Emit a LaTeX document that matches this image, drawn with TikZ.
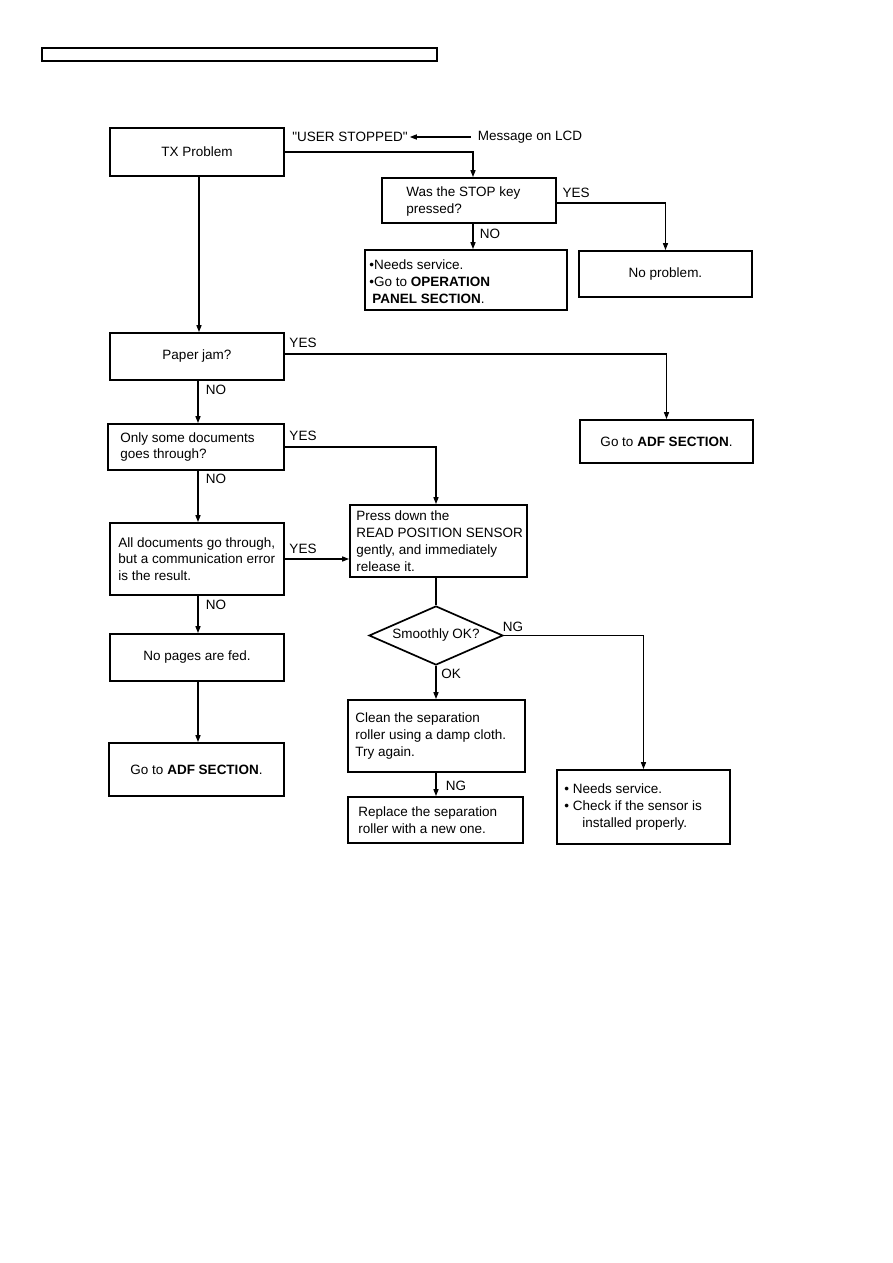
\documentclass[tikz,border=0pt]{standalone}
\usepackage{fontspec}
\setmainfont{Liberation Sans}
\newfontfamily\qfont{Liberation Sans}
\usetikzlibrary{arrows.meta,shapes.geometric,calc}
\begin{document}
\begin{tikzpicture}[x=1pt,y=-1pt,
  every node/.style={font=\fontsize{13.5}{16.8}\selectfont},
  box/.style={draw,line width=1.7pt,inner sep=0pt,align=center},
  txt/.style={inner sep=0pt,align=left,anchor=west},
  lab/.style={inner sep=0pt},
  conn/.style={line width=1.4pt},
  arr/.style={line width=1.4pt,-{Triangle[length=7pt,width=5pt]}}
]
\useasboundingbox (0,0) rectangle (893,1263);
\node[draw,line width=1.3pt,minimum width=395,minimum height=13,inner sep=0pt] (hdr) at (239.5,54.5) {};

% boxes
\node[box,minimum width=174,minimum height=48] (tx) at (197,152) {TX Problem};
\node[lab] (user) at (350,137) {\qfont "USER STOPPED"};
\node[lab] (msg) at (530,137) {Message on LCD};
\node[box,minimum width=174,minimum height=45] (was) at (469,200.5) {};
\node[txt] (wasT) at ([xshift=25pt,yshift=-1pt]was.west) {Was the STOP key\\pressed?};
\node[box,minimum width=173,minimum height=46] (noprob) at (665.5,274) {No problem.};
\node[box,minimum width=202,minimum height=60] (needs1) at (466,280) {};
\node[txt] (needs1T) at ([xshift=5pt,yshift=-1.5pt]needs1.west) {\textbullet Needs service.\\\textbullet Go to \textbf{OPERATION}\\\hspace{3pt}\textbf{PANEL SECTION}.};
\node[box,minimum width=174,minimum height=47] (paper) at (197,356.5) {Paper jam?};
\node[box,minimum width=173,minimum height=43] (adfr) at (666.5,441.5) {Go to \textbf{ADF SECTION}.};
\node[box,minimum width=176,minimum height=46] (only) at (196,447) {};
\node[txt] (onlyT) at ([xshift=13pt]only.west) {Only some documents\\goes through?};
\node[box,minimum width=174,minimum height=72] (all) at (197,559) {};
\node[txt] (allT) at ([xshift=9pt]all.west) {All documents go through,\\but a communication error\\is the result.};
\node[box,minimum width=177,minimum height=72] (press) at (438.5,541) {};
\node[txt] (pressT) at ([xshift=7pt]press.west) {Press down the\\READ POSITION SENSOR\\gently, and immediately\\release it.};
\node[draw,diamond,line width=1.7pt,shape aspect=2.27,minimum width=134,minimum height=59,inner sep=0pt] (dia) at (436,635.5) {Smoothly OK?};
\node[box,minimum width=177,minimum height=72] (clean) at (436.5,736) {};
\node[txt] (cleanT) at ([xshift=8pt]clean.west) {Clean the separation\\roller using a damp cloth.\\Try again.};
\node[box,minimum width=175,minimum height=46] (repl) at (435.5,820) {};
\node[txt] (replT) at ([xshift=11pt]repl.west) {Replace the separation\\roller with a new one.};
\node[box,minimum width=173,minimum height=74] (needs2) at (643.5,807) {};
\node[txt] (needs2T) at ([xshift=8pt]needs2.west) {\textbullet\ Needs service.\\\textbullet\ Check if the sensor is\\\hspace{18pt}installed properly.};
\node[box,minimum width=174,minimum height=47] (nopages) at (197,657.5) {No pages are fed.};
\node[box,minimum width=175,minimum height=53] (adfl) at (196.5,769.5) {Go to \textbf{ADF SECTION}.};

% labels
\node[lab] (yes1) at (576,193) {YES};
\node[lab] (no1) at (490,234) {NO};
\node[lab] (yes2) at (303,343) {YES};
\node[lab] (no2) at (216,390) {NO};
\node[lab] (yes3) at (303,436) {YES};
\node[lab] (no3) at (216,479) {NO};
\node[lab] (yes4) at (303,549) {YES};
\node[lab] (no4) at (216,605) {NO};
\node[lab] (ng1) at (513,627) {NG};
\node[lab] (ok) at (451,674) {OK};
\node[lab] (ng2) at (456,786) {NG};

% connectors
\draw[arr,shorten <=7pt,shorten >=2pt] (msg.west) -- (user.east);
\draw[arr] (tx.east) -| ([xshift=4pt]was.north);
\draw[arr] ([yshift=-2.5pt]was.east) -| (noprob.north);
\draw[arr] ([xshift=4pt]was.south) -- ([xshift=7pt]needs1.north);
\draw[arr] ([xshift=2pt]tx.south) -- ([xshift=2pt]paper.north);
\draw[arr] ([yshift=2.5pt]paper.east) -| (adfr.north);
\draw[arr] ([xshift=1pt]paper.south) -- ([xshift=2pt]only.north);
\draw[arr] (only.east) -| ([xshift=-2.5pt]press.north);
\draw[arr] ([xshift=2pt]only.south) -- ([xshift=1pt]all.north);
\draw[arr] (all.east) -- (all.east -| press.west);
\draw[arr] ([xshift=1pt]all.south) -- ([xshift=1pt]nopages.north);
\draw[conn] (dia.north |- press.south) -- (dia.north);
\draw[arr] (dia.east) -| (needs2.north);
\draw[arr] (dia.south) -- (dia.south |- clean.north);
\draw[arr] (dia.south |- clean.south) -- (dia.south |- repl.north);
\draw[arr] ([xshift=1pt]nopages.south) -- ([xshift=1.5pt]adfl.north);
\end{tikzpicture}
\end{document}
